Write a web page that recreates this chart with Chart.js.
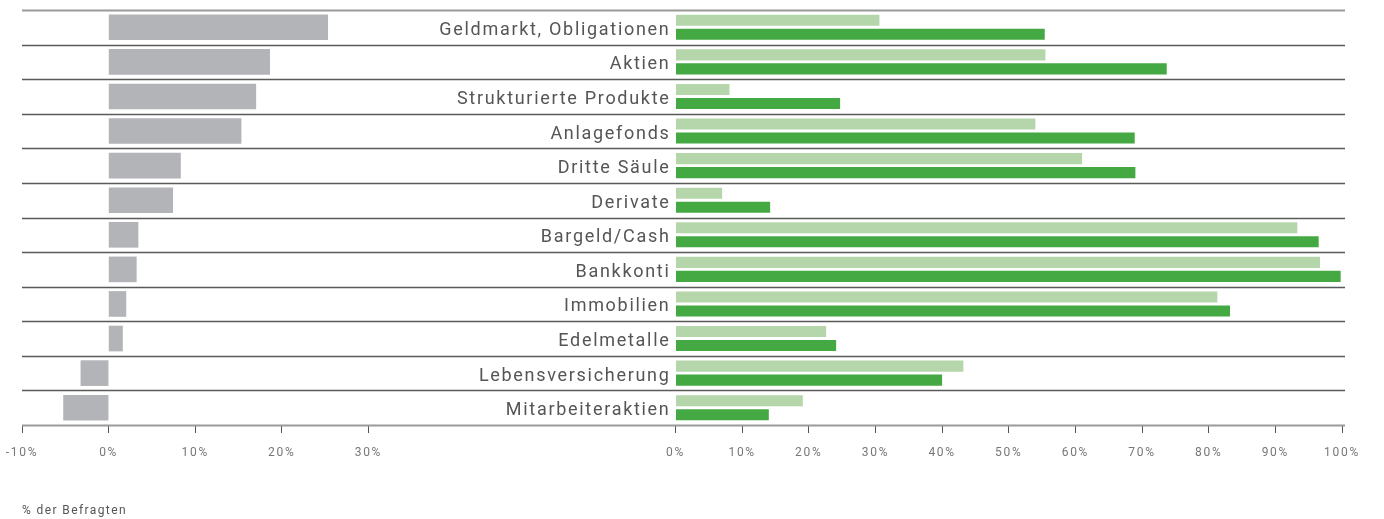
<!DOCTYPE html>
<html>
<head>
<meta charset="utf-8">
<script src="https://cdn.jsdelivr.net/npm/chart.js@4"></script>
<style>
  body { margin: 0; background: #fff; }
  .wrap { position: relative; width: 1384px; height: 519px; }
  #leftChart, #rightChart { position: absolute; top: 0; left: 0; }
  .note { position: absolute; left: 22px; top: 503px; font: 12px Roboto, sans-serif; letter-spacing: 1.4px; color: #555; }
</style>
</head>
<body>
<div class="wrap">
  <canvas id="leftChart" width="455" height="519"></canvas>
  <canvas id="rightChart" width="1384" height="519"></canvas>
  <div class="note">% der Befragten</div>
</div>
<script>
const categories = [
  'Geldmarkt, Obligationen', 'Aktien', 'Strukturierte Produkte', 'Anlagefonds',
  'Dritte Säule', 'Derivate', 'Bargeld/Cash', 'Bankkonti', 'Immobilien',
  'Edelmetalle', 'Lebensversicherung', 'Mitarbeiteraktien'
];
// difference (left panel)
const diffValues = [25.3, 18.6, 17.0, 15.3, 8.3, 7.4, 3.4, 3.2, 2.0, 1.6, -3.2, -5.2];
// right panel, two series
const lightValues = [30.6, 55.5, 8.1, 54.0, 61.0, 7.0, 93.3, 96.7, 81.3, 22.6, 43.2, 19.1];
const darkValues = [55.4, 73.7, 24.7, 68.9, 69.0, 14.2, 96.5, 99.8, 83.2, 24.1, 40.0, 14.0];
const leftTicks = [-10, 0, 10, 20, 30];

const fontFamily = 'Roboto, sans-serif';
const tickFont = { family: fontFamily, size: 12 };

// wider, DIN-like spacing for all canvas text
const spacing = {
  id: 'spacing',
  beforeDraw(chart) { chart.ctx.letterSpacing = '1.7px'; }
};

function xAxisBase() {
  return {
    grid: { drawOnChartArea: false, drawTicks: true, tickLength: 8, color: '#555', lineWidth: 1 },
    border: { display: false },
    ticks: { font: tickFont, color: '#777', padding: 13, maxRotation: 0 },
    afterFit(scale) {
      scale.height = 94;
      scale.paddingLeft = 0;
      scale.paddingRight = 0;
    }
  };
}

// left chart: gray bars
const leftX = xAxisBase();
leftX.min = -10;
leftX.max = 40;
leftX.afterBuildTicks = function (scale) {
  scale.ticks = leftTicks.map(v => ({ value: v }));
};
leftX.ticks.callback = v => v + '%';

new Chart(document.getElementById('leftChart'), {
  type: 'bar',
  data: {
    labels: categories,
    datasets: [{
      data: diffValues,
      backgroundColor: '#b3b4b8',
      barThickness: 25
    }]
  },
  options: {
    indexAxis: 'y',
    responsive: false,
    animation: false,
    layout: { padding: { left: 22, right: 0, top: 10, bottom: 0 } },
    plugins: { legend: { display: false }, tooltip: { enabled: false } },
    scales: {
      x: leftX,
      y: { display: false }
    }
  },
  plugins: [spacing]
});

// separator lines across the whole width
const separators = {
  id: 'separators',
  beforeDatasetsDraw(chart) {
    const ctx = chart.ctx;
    const y = chart.scales.y;
    ctx.save();
    for (let i = 0; i <= categories.length; i++) {
      const py = Math.round(y.getPixelForValue(i - 0.5)) + 0.5;
      const edge = i === 0 || i === categories.length;
      ctx.strokeStyle = edge ? '#9a9a9a' : '#5a5a5a';
      ctx.lineWidth = edge ? 2 : 1.5;
      ctx.beginPath();
      ctx.moveTo(22, py);
      ctx.lineTo(1345, py);
      ctx.stroke();
    }
    ctx.restore();
  }
};

const rightX = xAxisBase();
rightX.min = 0;
rightX.max = 100;
rightX.ticks.stepSize = 10;
rightX.ticks.callback = v => v + '%';

new Chart(document.getElementById('rightChart'), {
  type: 'bar',
  data: {
    labels: categories,
    datasets: [
      { data: lightValues, backgroundColor: '#b5d6aa', barPercentage: 0.79, categoryPercentage: 0.81 },
      { data: darkValues, backgroundColor: '#44a843', barPercentage: 0.79, categoryPercentage: 0.81 }
    ]
  },
  options: {
    indexAxis: 'y',
    responsive: false,
    animation: false,
    layout: { padding: { left: 0, right: 42, top: 10, bottom: 0 } },
    plugins: { legend: { display: false }, tooltip: { enabled: false } },
    scales: {
      x: rightX,
      y: {
        grid: { display: false, drawTicks: false },
        border: { display: false },
        ticks: { font: { family: fontFamily, size: 18 }, color: '#555', padding: 5, labelOffset: 3 },
        afterFit(scale) {
          scale.width = 675.5;
          scale.paddingTop = 0;
          scale.paddingBottom = 0;
        }
      }
    }
  },
  plugins: [spacing, separators]
});
</script>
</body>
</html>
